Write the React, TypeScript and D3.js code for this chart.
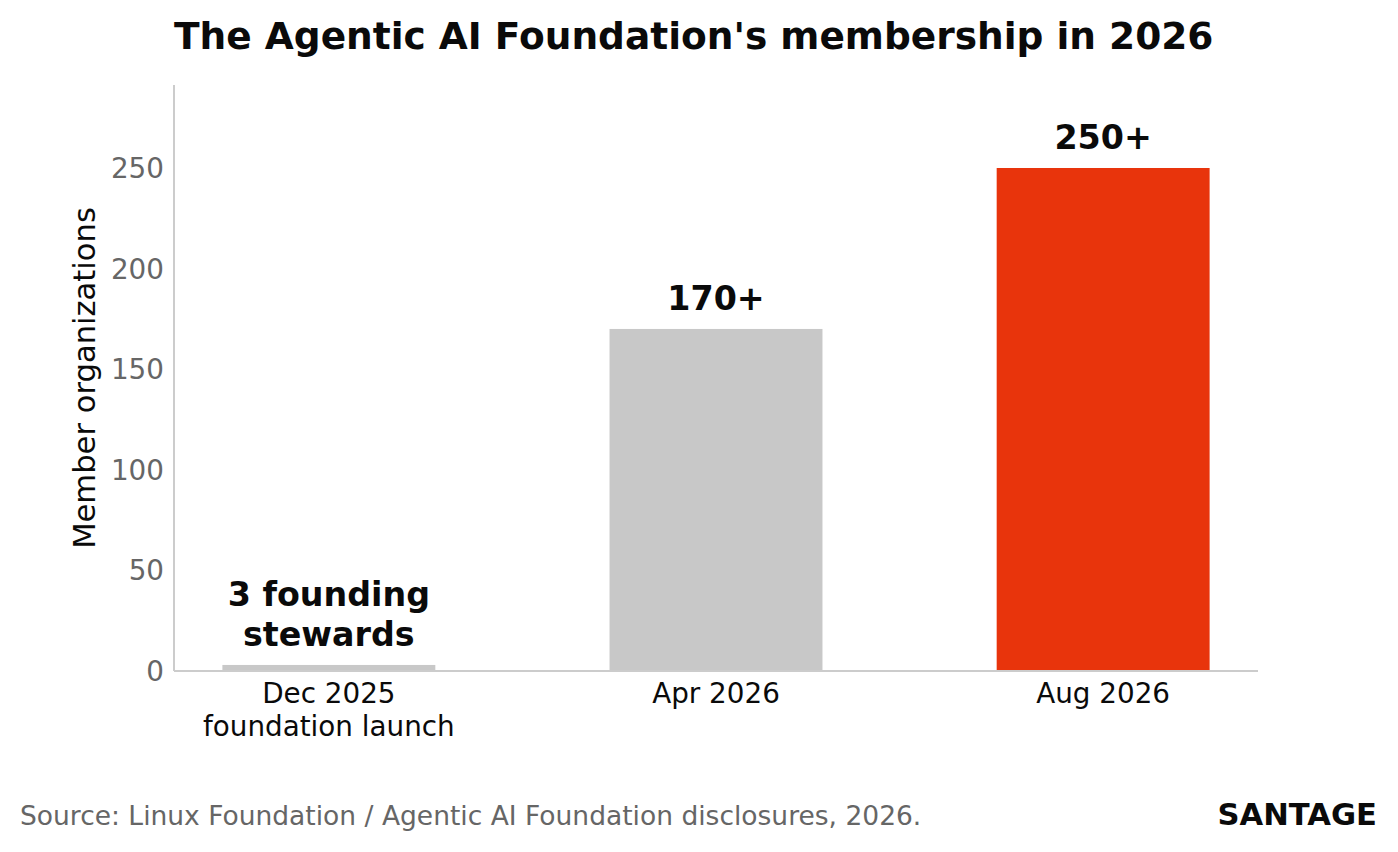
import React from 'react';
import * as d3 from 'd3';

const categories = ['Dec 2025\nfoundation launch', 'Apr 2026', 'Aug 2026'];
const members = [3, 170, 250];
const barLabels = ['3 founding\nstewards', '170+', '250+'];
const barColors = ['#c8c8c8', '#c8c8c8', '#e8340c'];
const yTicks = [0, 50, 100, 150, 200, 250];

const W = 1398;
const H = 852;
const FONT = '"DejaVu Sans", sans-serif';

const App: React.FC = () => {
  const left = 174, right = 1258, top = 85, bottom = 671;

  const x = d3.scaleLinear().domain([-0.4, 2.4]).range([left, right]);
  const y = d3.scaleLinear().domain([0, 291.25]).range([bottom, top]);
  const barW = 0.55;

  return (
    <div>
      <style>{'body{margin:0}'}</style>
      <svg width={W} height={H} style={{ display: 'block', fontFamily: FONT }}>
        <rect width={W} height={H} fill="#fff" />

        <text x={left} y={49} fontSize={37.5} fontWeight="bold" fill="#0a0a0a">
          The Agentic AI Foundation's membership in 2026
        </text>

        {/* bars */}
        {members.map((v, i) => (
          <rect
            key={i}
            x={x(i - barW / 2)}
            y={y(v)}
            width={x(barW) - x(0)}
            height={y(0) - y(v)}
            fill={barColors[i]}
          />
        ))}

        {/* value labels */}
        {members.map((v, i) => {
          const lines = barLabels[i].split('\n');
          const base = y(v) - 19;
          return (
            <text key={i} x={x(i)} textAnchor="middle" fontSize={33.3} fontWeight="bold" fill="#0a0a0a">
              {lines.map((l, j) => (
                <tspan key={j} x={x(i)} y={base - (lines.length - 1 - j) * 40}>{l}</tspan>
              ))}
            </text>
          );
        })}

        {/* spines */}
        <line x1={left} x2={left} y1={top} y2={bottom} stroke="#cccccc" strokeWidth={2} />
        <line x1={left} x2={right} y1={bottom} y2={bottom} stroke="#cccccc" strokeWidth={2} />

        {/* y ticks */}
        {yTicks.map(t => (
          <text key={t} x={164} y={y(t)} dy="0.36em" textAnchor="end" fontSize={27.8} fill="#666666">
            {t}
          </text>
        ))}

        {/* x tick labels */}
        {categories.map((c, i) => (
          <text key={i} textAnchor="middle" fontSize={27.8} fill="#0a0a0a">
            {c.split('\n').map((l, j) => (
              <tspan key={j} x={x(i)} y={703 + j * 32.5}>{l}</tspan>
            ))}
          </text>
        ))}

        <text
          transform={`translate(95,${(top + bottom) / 2}) rotate(-90)`}
          textAnchor="middle"
          fontSize={30.6}
          fill="#0a0a0a"
        >
          Member organizations
        </text>

        <text x={20} y={825} fontSize={26.5} fill="#666666">
          Source: Linux Foundation / Agentic AI Foundation disclosures, 2026.
        </text>
        <text x={1377} y={825} textAnchor="end" fontSize={30.6} fontWeight="bold" fill="#0a0a0a">
          SANTAGE
        </text>
      </svg>
    </div>
  );
};

export default App;
